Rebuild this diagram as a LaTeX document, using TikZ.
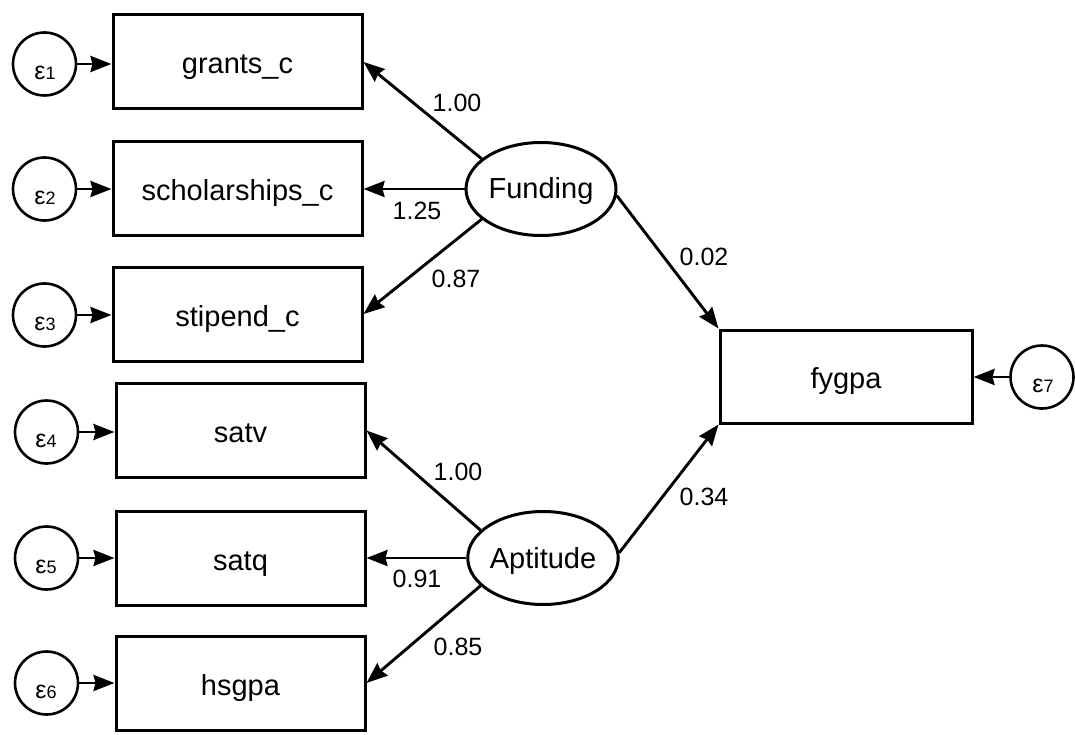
\documentclass[tikz,border=0pt]{standalone}
\usepackage{fontspec}
\setmainfont{Liberation Sans}
\usetikzlibrary{arrows.meta,shapes.geometric}
\begin{document}
\begin{tikzpicture}[x=1pt,y=-1pt,
  obs/.style={draw, line width=3pt, minimum width=249pt, minimum height=94pt,
    inner sep=0pt, text height=24pt, text depth=0pt, font=\fontsize{29}{35}\selectfont},
  lat/.style={draw, ellipse, line width=3pt, minimum width=150pt, minimum height=93pt,
    inner sep=0pt, text height=20pt, text depth=0pt, font=\fontsize{29}{35}\selectfont},
  err/.style={draw, circle, line width=2.6pt, minimum size=63pt, inner sep=0pt},
  errtext/.style={inner sep=0pt, font=\fontsize{25}{25}\selectfont},
  load/.style={line width=2.9pt, -{Stealth[length=21pt,width=16pt,inset=2pt]}},
  coef/.style={inner sep=0pt, font=\fontsize{25}{30}\selectfont},
]
\useasboundingbox (0,0) rectangle (1075,735);

% indicators
\node[obs] (grants) at (237.5,62)  {grants\_c};
\node[obs] (schol)  at (237.5,189) {scholarships\_c};
\node[obs] (stip)   at (237.5,314) {stipend\_c};
\node[obs] (satv)   at (240.5,430.5) {satv};
\node[obs] (satq)   at (240.5,558) {satq};
\node[obs] (hsgpa)  at (240.5,683) {hsgpa};
\node[obs, minimum width=252pt, minimum height=93pt] (fygpa) at (846,376.5) {fygpa};

% latent factors
\node[lat] (fund) at (541,189) {Funding};
\node[lat] (apt)  at (543,558) {Aptitude};

% error terms
\node[err] (e1) at (44.5,64)  {};
\node[err] (e2) at (44.5,189) {};
\node[err] (e3) at (44.5,315) {};
\node[err] (e4) at (46.5,432) {};
\node[err] (e5) at (46.5,558) {};
\node[err] (e6) at (46.5,683) {};
\node[err] (e7) at (1042,377) {};
\newcommand{\errlabel}[1]{ε{\fontsize{18}{18}\selectfont #1}}
\node[errtext] at (45,73)   {\errlabel{1}};
\node[errtext] at (45,198)  {\errlabel{2}};
\node[errtext] at (45,324)  {\errlabel{3}};
\node[errtext] at (46,441)  {\errlabel{4}};
\node[errtext] at (46,567)  {\errlabel{5}};
\node[errtext] at (46,692)  {\errlabel{6}};
\node[errtext] at (1043,386) {\errlabel{7}};

\foreach \e/\b in {e1/grants,e2/schol,e3/stip,e4/satv,e5/satq,e6/hsgpa}
  \draw[load] (\e) -- (\e -| \b.west);
\draw[load] (e7) -- (e7 -| fygpa.east);

% loadings
\draw[load] (fund.153) -- (grants.east);
\draw[load] (fund.west) -- (schol.east);
\draw[load] (fund.207) -- (stip.east);
\draw[load] (apt.156) -- (satv.east);
\draw[load] (apt.west) -- (satq.east);
\draw[load] (apt.204) -- (hsgpa.east);

% structural paths
\draw[load] (fund.-5) -- (fygpa.north west);
\draw[load] (apt.4) -- (fygpa.south west);

% coefficients
\node[coef] (c1) at (457,103) {1.00};
\node[coef] (c2) at (417,211) {1.25};
\node[coef] (c3) at (456,279) {0.87};
\node[coef] (c4) at (458,472) {1.00};
\node[coef] (c5) at (417,579) {0.91};
\node[coef] (c6) at (458,647) {0.85};
\node[coef] (c7) at (704,257) {0.02};
\node[coef] (c8) at (704,497) {0.34};
\end{tikzpicture}
\end{document}
